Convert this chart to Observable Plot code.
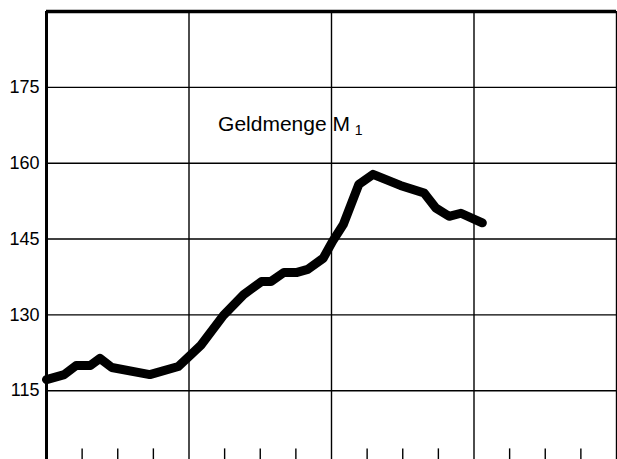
<!DOCTYPE html>
<html>
<head>
<meta charset="utf-8">
<script src="https://cdn.jsdelivr.net/npm/d3@7"></script>
<script src="https://cdn.jsdelivr.net/npm/@observablehq/plot@0.6"></script>
<style>
  html, body { margin: 0; padding: 0; background: #fff; }
  #chart svg { display: block; }
</style>
</head>
<body>
<div id="chart"></div>
<script>
// Time in months from the left edge (4 years, quarterly ticks)
const months = [0, 1.5, 2.5, 3.7, 4.5, 5.5, 8.7, 11.1, 12.2, 13.0, 14.9, 16.6, 18.1, 18.9, 20.0, 21.1, 22.0, 23.3, 24.1, 25.0, 26.3, 27.5, 29.8, 31.8, 32.8, 33.9, 34.9, 36.7];
const values = [117.2, 118.2, 120.0, 120.0, 121.4, 119.6, 118.2, 119.8, 122.2, 124.0, 129.9, 134.0, 136.6, 136.6, 138.4, 138.4, 139.0, 141.2, 144.6, 147.9, 155.8, 157.8, 155.6, 154.1, 151.1, 149.5, 150.1, 148.2];
const yTicks = [115, 130, 145, 160, 175];
const yearLines = [12, 24, 36];
const quarterTicks = [3, 6, 9, 15, 18, 21, 27, 30, 33, 39, 42, 45];
const labelMain = "Geldmenge M";
const labelSub = "1";

const data = months.map((m, i) => ({m, v: values[i]}));
const yMin = 101.4, yMax = 190, xMax = 48;

const chart = Plot.plot({
  width: 617,
  height: 459,
  marginLeft: 46,
  marginTop: 11,
  marginRight: 1,
  marginBottom: 0,
  style: {fontFamily: "'Liberation Sans', Arial, sans-serif", color: "#000", background: "#fff"},
  x: {domain: [0, xMax], axis: null, label: null},
  y: {domain: [yMin, yMax], axis: null, label: null},
  marks: [
    Plot.ruleY(yTicks, {stroke: "#000", strokeWidth: 1.4}),
    Plot.ruleX(yearLines, {stroke: "#000", strokeWidth: 1.4}),
    Plot.ruleX(quarterTicks, {y1: yMin, y2: yMin + 2.1, stroke: "#000", strokeWidth: 1.4}),
    Plot.ruleX([xMax], {stroke: "#000", strokeWidth: 1.4}),
    Plot.ruleY([yMax], {stroke: "#000", strokeWidth: 3.5}),
    Plot.ruleX([0], {stroke: "#000", strokeWidth: 3}),
    Plot.axisY({ticks: yTicks, tickSize: 0, tickPadding: 7, fontSize: 18, anchor: "left", label: null}),
    Plot.line(data, {x: "m", y: "v", stroke: "#000", strokeWidth: 9, strokeLinejoin: "round", curve: "linear"}),
    Plot.text([labelMain], {x: 14.45, y: 167.6, text: d => d, textAnchor: "start", fontSize: 21, fill: "#000"}),
    Plot.text([labelSub], {x: 25.95, y: 166.4, text: d => d, textAnchor: "start", fontSize: 14, fill: "#000"})
  ]
});
document.getElementById("chart").appendChild(chart);
</script>
</body>
</html>
